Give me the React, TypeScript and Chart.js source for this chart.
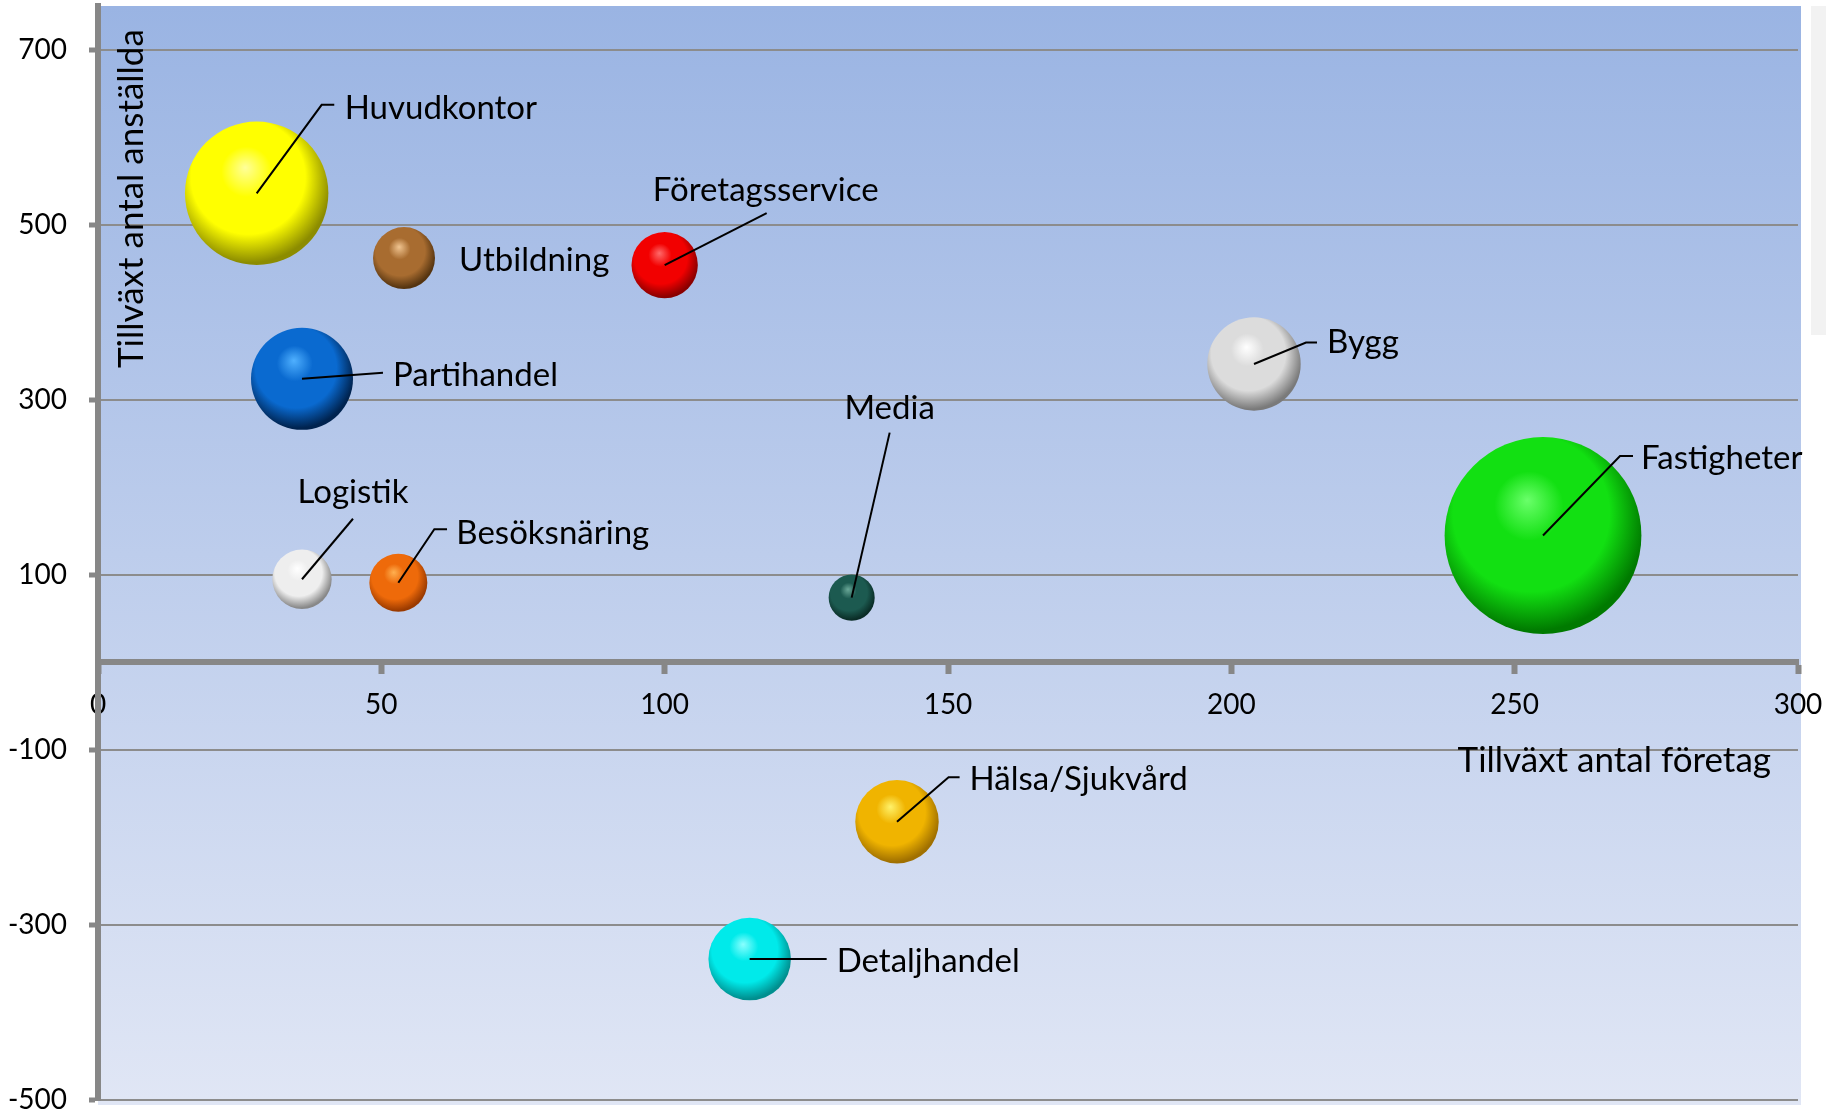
import React, { useEffect, useRef } from 'react';
import { Chart, registerables } from 'chart.js';

Chart.register(...registerables);

// ---------- data ----------
const categories = [
  'Huvudkontor',
  'Utbildning',
  'Företagsservice',
  'Partihandel',
  'Bygg',
  'Fastigheter',
  'Logistik',
  'Besöksnäring',
  'Media',
  'Hälsa/Sjukvård',
  'Detaljhandel',
];
const growthCompanies = [28, 54, 100, 36, 204, 255, 36, 53, 133, 141, 115];
const growthEmployees = [536, 462, 454, 324, 341, 145, 95, 91, 74, -182, -339];
const bubbleSize = [5140, 960, 1100, 2600, 2180, 9680, 880, 840, 530, 1740, 1700];

const xTicks = [0, 50, 100, 150, 200, 250, 300];
const yTicks = [-500, -300, -100, 100, 300, 500, 700];
const xTitle = 'Tillväxt antal företag';
const yTitle = 'Tillväxt antal anställda';

// ---------- styles ----------
const FONT = 'Lato, "Open Sans", sans-serif';
const MAX_R = 98.4;
// [highlight, base, dark]
const sphereColors: string[][] = [
  ['#ffff9a', '#ffff00', '#8c8c00'],
  ['#f0c490', '#a86c30', '#553410'],
  ['#ff6a6a', '#f20000', '#8a0000'],
  ['#4fb0ff', '#0a6ad0', '#00234f'],
  ['#ffffff', '#dcdcdc', '#7a7a7a'],
  ['#6aff6a', '#12e012', '#007a00'],
  ['#ffffff', '#eeeeee', '#888888'],
  ['#ffb050', '#ee6a0a', '#9a3a00'],
  ['#6aa898', '#1c5a50', '#0a2c26'],
  ['#fff26a', '#f0b400', '#a07000'],
  ['#8affff', '#00eaea', '#008f8f'],
];
// leader line points and text anchor, relative to the bubble centre (px)
const labelLayout: { line: number[][]; text: number[]; align: CanvasTextAlign }[] = [
  { line: [[65, -88.5], [77.6, -88.5]], text: [88, -74.5], align: 'left' },
  { line: [], text: [55, 13], align: 'left' },
  { line: [[102, -52]], text: [101, -64.5], align: 'center' },
  { line: [[81, -6]], text: [91, 7], align: 'left' },
  { line: [[52, -21.5], [63, -21.5]], text: [73, -10.7], align: 'left' },
  { line: [[77, -79.5], [90, -79.5]], text: [98, -66], align: 'left' },
  { line: [[51, -60.5]], text: [51, -76], align: 'center' },
  { line: [[36, -53.5], [48.7, -53.5]], text: [58, -39.2], align: 'left' },
  { line: [[38, -165]], text: [38, -179], align: 'center' },
  { line: [[51.6, -44.5], [62.6, -44.5]], text: [72.6, -32], align: 'left' },
  { line: [[77, 0]], text: [87, 13], align: 'left' },
];

const maxSize = Math.max(...bubbleSize);
const radiusFor = (v: number) => MAX_R * Math.sqrt(v / maxSize);

function sphereFill(ctx: any) {
  const i = ctx.dataIndex ?? 0;
  const [hi, base, dark] = sphereColors[i] || sphereColors[0];
  const chart = ctx.chart;
  const raw = ctx.raw;
  if (!raw || !chart.scales || !chart.scales.x || !chart.scales.y) return base;
  const cx = chart.scales.x.getPixelForValue(raw.x);
  const cy = chart.scales.y.getPixelForValue(raw.y);
  const r = raw.r;
  if (!isFinite(cx) || !isFinite(cy)) return base;
  const g = chart.ctx.createRadialGradient(
    cx - 0.16 * r, cy - 0.36 * r, 0,
    cx - 0.1 * r, cy - 0.16 * r, 1.17 * r
  );
  g.addColorStop(0, hi);
  g.addColorStop(0.3, base);
  g.addColorStop(0.68, base);
  g.addColorStop(0.97, dark);
  g.addColorStop(1, dark);
  return g;
}

const backgroundPlugin = {
  id: 'plotBackground',
  beforeDraw(chart: any) {
    const { ctx, chartArea } = chart;
    const { left, top, right, bottom } = chartArea;
    ctx.save();
    const g = ctx.createLinearGradient(0, top, 0, bottom);
    g.addColorStop(0, '#9ab4e3');
    g.addColorStop(1, '#e0e6f5');
    ctx.fillStyle = g;
    ctx.fillRect(left, top, right - left + 3, bottom - top + 5);
    // light grey strip at the right edge
    ctx.fillStyle = '#f2f2f2';
    ctx.fillRect(chart.width - 15, top, 15, 329);
    ctx.restore();
  },
};

const labelPlugin = {
  id: 'bubbleLabels',
  afterDatasetsDraw(chart: any) {
    const { ctx, chartArea } = chart;
    const meta = chart.getDatasetMeta(0);
    ctx.save();
    ctx.strokeStyle = '#000';
    ctx.lineWidth = 2;
    ctx.fillStyle = '#000';
    ctx.font = `33px ${FONT}`;
    ctx.textBaseline = 'alphabetic';
    meta.data.forEach((el: any, i: number) => {
      const lay = labelLayout[i];
      if (!lay) return;
      const { x, y } = el;
      if (lay.line.length) {
        ctx.beginPath();
        ctx.moveTo(x, y);
        lay.line.forEach(([dx, dy]) => ctx.lineTo(x + dx, y + dy));
        ctx.stroke();
      }
      ctx.textAlign = lay.align;
      ctx.fillText(categories[i], x + lay.text[0], y + lay.text[1]);
    });

    // axis titles inside the plot area
    ctx.font = `35px ${FONT}`;
    const zeroY = chart.scales.y.getPixelForValue(0);
    ctx.textAlign = 'right';
    ctx.fillText(xTitle, chartArea.right - 27, zeroY + 110);
    ctx.translate(chartArea.left + 45, chartArea.top + 362);
    ctx.rotate(-Math.PI / 2);
    ctx.textAlign = 'left';
    ctx.fillText(yTitle, 0, 0);
    ctx.restore();
  },
};

export default function App() {
  const ref = useRef<HTMLCanvasElement | null>(null);

  useEffect(() => {
    const canvas = ref.current;
    if (!canvas) return;
    const tickFont = { family: FONT, size: 28 };
    const chart = new Chart(canvas, {
      type: 'bubble',
      data: {
        datasets: [
          {
            label: 'Branscher',
            data: categories.map((_, i) => ({
              x: growthCompanies[i],
              y: growthEmployees[i],
              r: radiusFor(bubbleSize[i]),
            })),
            backgroundColor: sphereFill as any,
            borderWidth: 0,
            hoverBorderWidth: 0,
            hoverRadius: 0,
            clip: false as any,
          },
        ],
      },
      options: {
        animation: false,
        responsive: false,
        events: [],
        layout: { autoPadding: false, padding: { top: 6, right: 28, bottom: 11, left: 0 } },
        plugins: {
          legend: { display: false },
          tooltip: { enabled: false },
        },
        scales: {
          x: {
            type: 'linear',
            min: 0,
            max: 300,
            position: { y: 0 } as any,
            afterBuildTicks: (axis: any) => {
              axis.ticks = xTicks.map((v) => ({ value: v }));
            },
            afterFit: (s: any) => {
              s.paddingLeft = 0;
              s.paddingRight = 0;
            },
            ticks: { font: tickFont, color: '#000', padding: 17, maxRotation: 0 },
            grid: {
              drawOnChartArea: false,
              drawTicks: true,
              tickLength: 9,
              tickWidth: 6,
              tickColor: '#878787',
            },
            border: { display: true, width: 6, color: '#878787' },
          },
          y: {
            type: 'linear',
            min: -500,
            max: 750,
            afterBuildTicks: (axis: any) => {
              axis.ticks = yTicks.map((v) => ({ value: v }));
            },
            afterFit: (s: any) => {
              s.width = 98;
              s.paddingTop = 0;
              s.paddingBottom = 0;
            },
            ticks: { font: tickFont, color: '#000', padding: 22 },
            grid: {
              color: '#8c8c8c',
              lineWidth: 2,
              drawTicks: true,
              tickLength: 9,
              tickWidth: 5,
              tickColor: '#878787',
            },
            border: { display: true, width: 6, color: '#878787' },
          },
        },
      },
      plugins: [backgroundPlugin, labelPlugin],
    });
    return () => chart.destroy();
  }, []);

  return (
    <div style={{ position: 'fixed', left: 0, top: 0, width: 1826, height: 1111, background: '#fff' }}>
      <canvas ref={ref} width={1826} height={1111} style={{ width: 1826, height: 1111, display: 'block' }} />
    </div>
  );
}
